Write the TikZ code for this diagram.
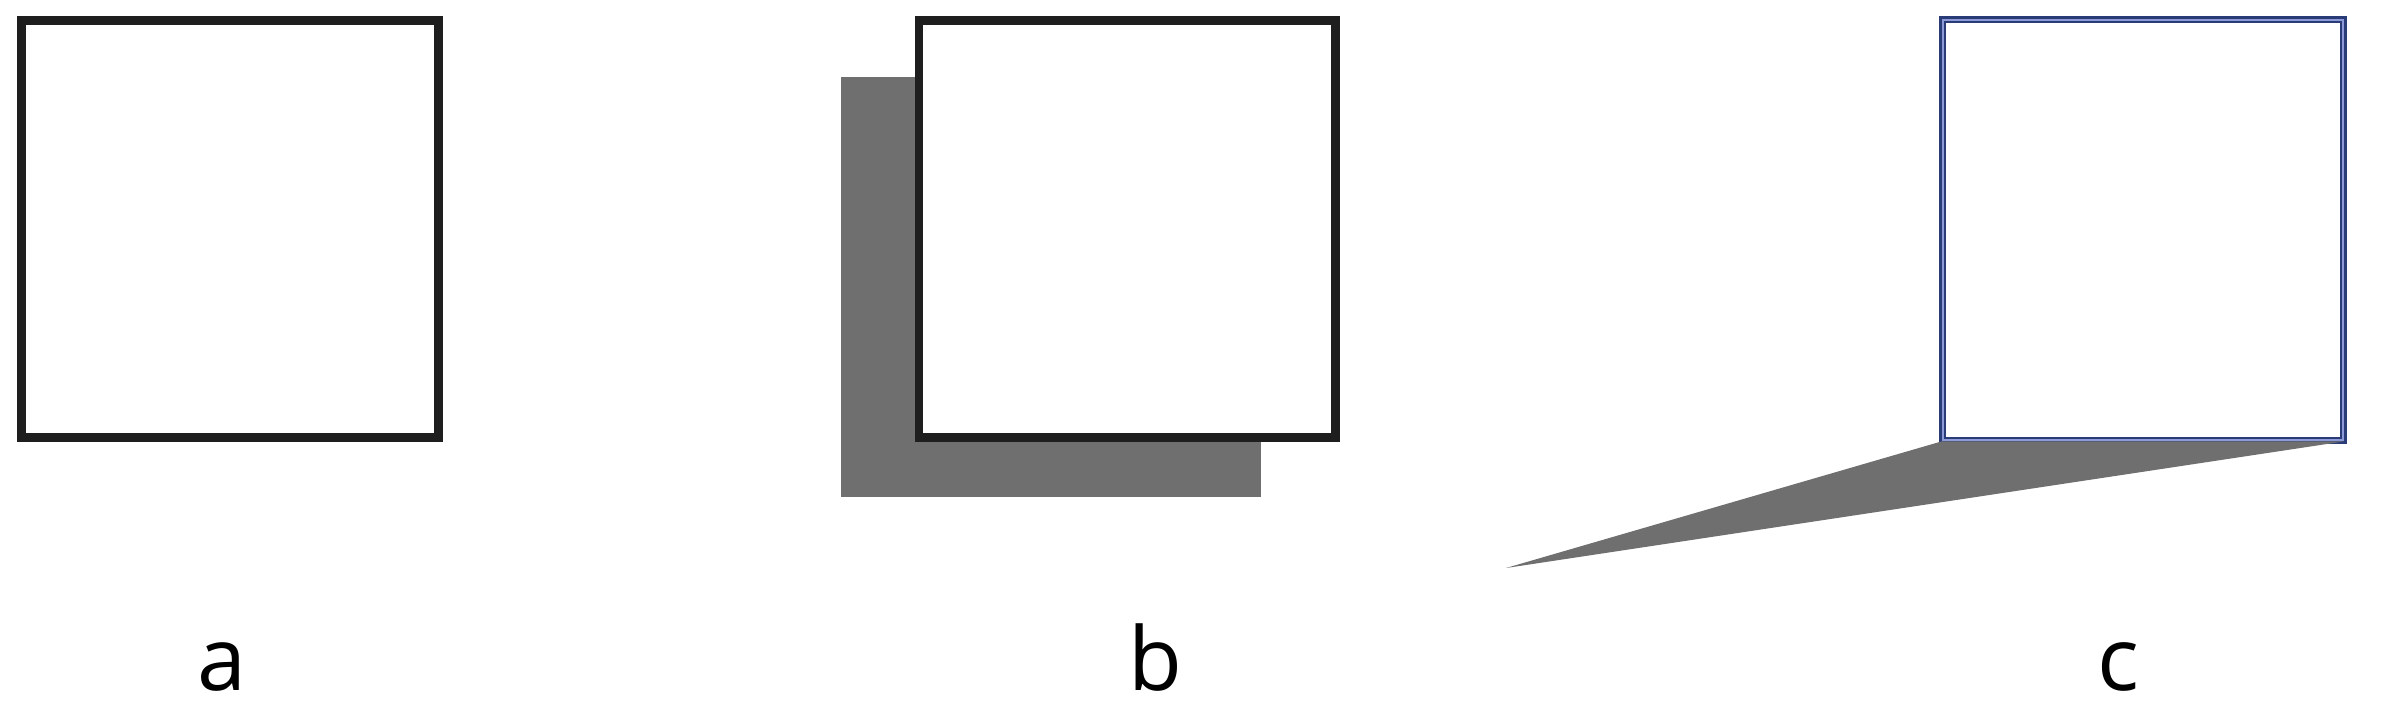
\documentclass[tikz,border=0pt]{standalone}
\usepackage{fontspec}
\setmainfont{Open Sans}
\usetikzlibrary{positioning}
\definecolor{shadowgray}{HTML}{706F6F}
\definecolor{framedark}{HTML}{2A3C78}
\definecolor{framelight}{HTML}{8C9BD8}
\definecolor{frameblack}{HTML}{1E1E1E}

\begin{document}
\begin{tikzpicture}[x=0.01cm,y=0.01cm,
    plainbox/.style={draw=frameblack,fill=white,line width=2.5pt,
      minimum size=4.16cm,inner sep=0pt},
    shadebox/.style={fill=shadowgray,minimum size=4.2cm,inner sep=0pt},
    doublebox/.style={draw=framedark,double=framelight,line width=0.7pt,
      double distance=0.6pt,fill=white,minimum width=4.0cm,
      minimum height=4.2cm,inner sep=0pt},
    caption/.style={anchor=base,font=\fontsize{25}{30}\selectfont}]

  \useasboundingbox (0,0) rectangle (2386,711);

  % a: plain square
  \node[plainbox] (a) at (230,482) {};
  \node[caption] (alabel) at (222,21) {a};

  % b: square with offset shadow
  \node[shadebox] (bshadow) at (1051,424) {};
  \node[plainbox] (b) at (1127,482) {};
  \node[caption] (blabel) at (1155,21) {b};

  % c: square with cast shadow
  \node[doublebox] (c) at (2143,481) {};
  \coordinate (ctip) at (1506,143);
  \fill[shadowgray] (c.south west) -- (c.south east) -- (ctip) -- cycle;
  \node[caption] (clabel) at (2118,21) {c};
\end{tikzpicture}
\end{document}
